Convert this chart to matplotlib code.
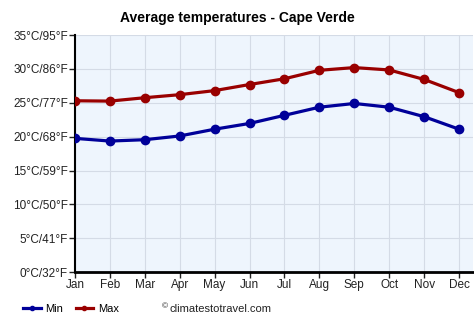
import matplotlib
matplotlib.use('Agg')
import matplotlib.pyplot as plt
from matplotlib.lines import Line2D

months = ["Jan", "Feb", "Mar", "Apr", "May", "Jun", "Jul", "Aug", "Sep", "Oct", "Nov", "Dec"]
t_min = [19.75, 19.35, 19.55, 20.1, 21.1, 21.95, 23.15, 24.35, 24.9, 24.35, 22.95, 21.1]
t_max = [25.3, 25.25, 25.75, 26.2, 26.8, 27.7, 28.55, 29.8, 30.2, 29.85, 28.45, 26.5]
y_ticks = [0, 5, 10, 15, 20, 25, 30, 35]
y_labels = ["0°C/32°F", "5°C/41°F", "10°C/50°F", "15°C/59°F", "20°C/68°F",
            "25°C/77°F", "30°C/86°F", "35°C/95°F"]

plt.rcParams['font.family'] = ['Liberation Sans', 'DejaVu Sans']

fig = plt.figure(figsize=(4.74, 3.31), dpi=100)
ax = fig.add_axes([0.158, 0.178, 0.84, 0.716])
ax.set_facecolor("#eef5fd")

x = list(range(len(months)))
ax.plot(x, t_min, color="#000099", lw=2.3, marker="o", ms=6, zorder=3)
ax.plot(x, t_max, color="#990000", lw=2.3, marker="o", ms=6, zorder=3)

ax.set_xlim(0, 11.4)
ax.set_ylim(0, 35)
ax.set_xticks(x)
ax.set_xticklabels(months)
ax.set_yticks(y_ticks)
ax.set_yticklabels(y_labels)
ax.tick_params(labelsize=8.5, colors="#222222", length=4, width=1, pad=1)
ax.grid(True, color="#d4dbe6", lw=0.8)
ax.set_axisbelow(True)
for s in ["top", "right"]:
    ax.spines[s].set_visible(False)
ax.spines["left"].set_linewidth(1.5)
ax.spines["bottom"].set_linewidth(2)

fig.text(0.5, 0.945, "Average temperatures - Cape Verde", ha="center", va="center",
         fontsize=10, fontweight="bold")

handles = [Line2D([0], [0], color="#000099", lw=2.3, marker="o", ms=3),
           Line2D([0], [0], color="#990000", lw=2.3, marker="o", ms=3)]
fig.legend(handles, ["Min", "Max"], loc="center left", bbox_to_anchor=(0.028, 0.066),
           ncol=2, frameon=False, fontsize=8, handlelength=1.6, columnspacing=1.1,
           handletextpad=0.4)
fig.text(0.342, 0.072, "©", ha="left", va="center", fontsize=6, color="#222222")
fig.text(0.357, 0.066, "climatestotravel.com", ha="left", va="center", fontsize=8,
         color="#222222")

fig.savefig("out.png", dpi=100)
